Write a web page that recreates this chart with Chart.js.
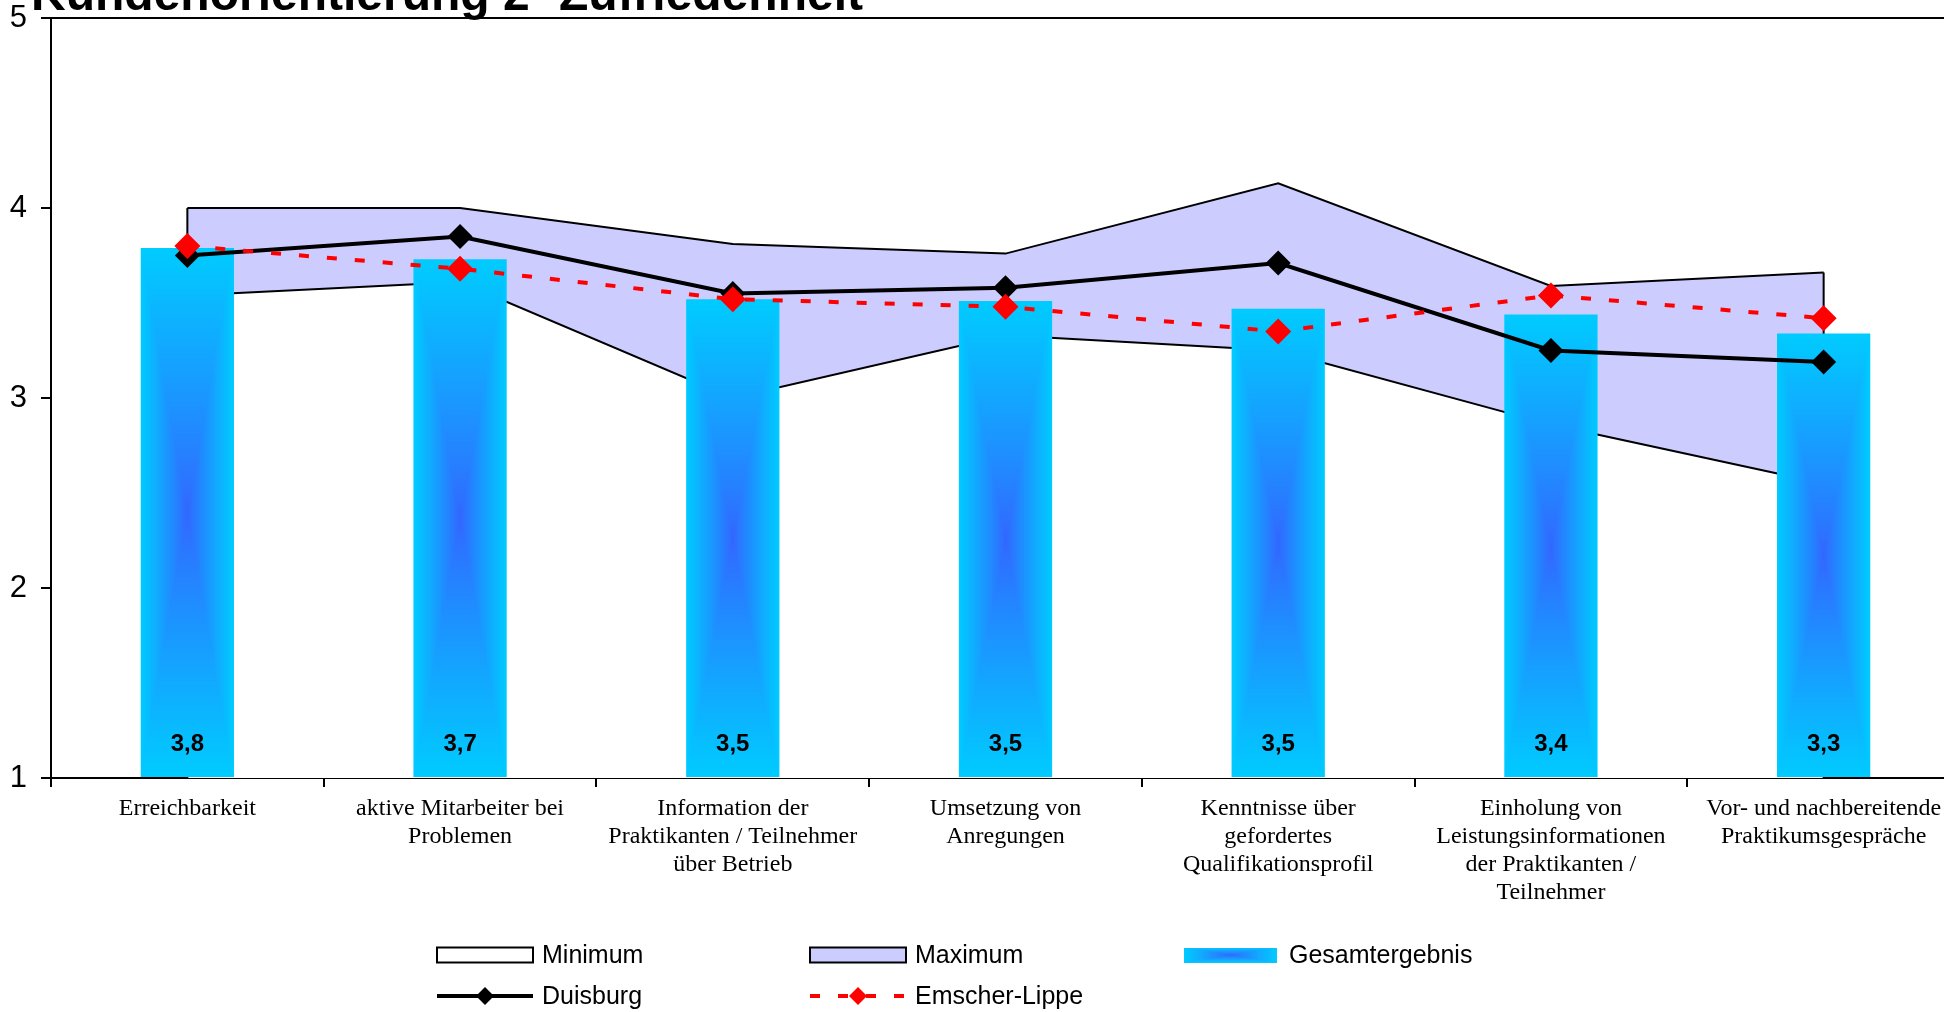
<!DOCTYPE html>
<html lang="de">
<head>
<meta charset="utf-8">
<title>Kundenorientierung 2- Zufriedenheit</title>
<script src="https://cdn.jsdelivr.net/npm/chart.js@4.4.1/dist/chart.umd.min.js"></script>
<style>
  html, body { margin: 0; padding: 0; background: #fff; overflow: hidden; }
  #wrap { width: 1944px; height: 1012px; overflow: hidden; position: relative; }
  #chart { position: absolute; left: 0; top: 0; }
</style>
</head>
<body>
<div id="wrap"><canvas id="chart" width="1980" height="1012"></canvas></div>
<script>
// ---- data ----
const chartTitle = 'Kundenorientierung 2- Zufriedenheit';
const categories = [
  'Erreichbarkeit',
  ['aktive Mitarbeiter bei', 'Problemen'],
  ['Information der', 'Praktikanten / Teilnehmer', 'über Betrieb'],
  ['Umsetzung von', 'Anregungen'],
  ['Kenntnisse über', 'gefordertes', 'Qualifikationsprofil'],
  ['Einholung von', 'Leistungsinformationen', 'der Praktikanten /', 'Teilnehmer'],
  ['Vor- und nachbereitende', 'Praktikumsgespräche']
];
const minimum   = [3.54, 3.61, 3.00, 3.33, 3.25, 2.86, 2.55];
const maximum   = [4.00, 4.00, 3.81, 3.76, 4.13, 3.59, 3.66];
const gesamt    = [3.79, 3.73, 3.52, 3.51, 3.47, 3.44, 3.34];
const duisburg  = [3.75, 3.85, 3.55, 3.58, 3.71, 3.25, 3.19];
const emscher   = [3.80, 3.68, 3.52, 3.48, 3.35, 3.54, 3.42];
const yTicks    = [1, 2, 3, 4, 5];

// ---- styling ----
const SANS = '"Liberation Sans", Arial, Helvetica, sans-serif';
const SERIF = '"Liberation Serif", "Times New Roman", serif';
const BAR_SHARE = 0.342;
const CYAN = [0, 204, 255];
const BLUE = [51, 102, 255];

// rectangular "from centre" fill: blue core fading to cyan at every edge
const fillCache = {};
function centreFill(w, h) {
  w = Math.max(1, Math.round(w));
  h = Math.max(1, Math.round(h));
  const key = w + 'x' + h;
  if (fillCache[key]) return fillCache[key];
  const c = document.createElement('canvas');
  c.width = w; c.height = h;
  const g = c.getContext('2d');
  const img = g.createImageData(w, h);
  const hw = w / 2, hh = h / 2;
  for (let y = 0; y < h; y++) {
    for (let x = 0; x < w; x++) {
      const s = Math.min(1, Math.max(Math.abs(x + 0.5 - hw) / hw, Math.abs(y + 0.5 - hh) / hh));
      const t = Math.pow(s, 0.9);
      const i = (y * w + x) * 4;
      img.data[i]     = BLUE[0] + (CYAN[0] - BLUE[0]) * t;
      img.data[i + 1] = BLUE[1] + (CYAN[1] - BLUE[1]) * t;
      img.data[i + 2] = BLUE[2] + (CYAN[2] - BLUE[2]) * t;
      img.data[i + 3] = 255;
    }
  }
  g.putImageData(img, 0, 0);
  fillCache[key] = c;
  return c;
}

function barFill(ctx) {
  const chart = ctx.chart;
  const xs = chart.scales && chart.scales.x;
  const ys = chart.scales && chart.scales.y;
  if (ctx.type !== 'data' || !xs || !ys || !chart.chartArea) return 'rgb(0,204,255)';
  const catWidth = xs.width / chart.data.labels.length;
  const w = catWidth * BAR_SHARE;
  const centre = xs.getPixelForValue(ctx.dataIndex);
  const top = ys.getPixelForValue(ctx.raw);
  const base = ys.getPixelForValue(ys.min);
  const src = centreFill(w, base - top);
  const pat = chart.ctx.createPattern(src, 'repeat');
  pat.setTransform(new DOMMatrix([w / src.width, 0, 0, (base - top) / src.height, centre - w / 2, top]));
  return pat;
}

// ---- plugins ----
const backgroundPlugin = {
  id: 'whiteBackground',
  beforeDraw(chart) {
    const c = chart.ctx;
    c.save();
    c.fillStyle = '#fff';
    c.fillRect(0, 0, chart.width, chart.height);
    c.restore();
  }
};

// vertical outline at both ends of a filled area series
const areaEdgePlugin = {
  id: 'areaEdges',
  afterDatasetDraw(chart, args) {
    const ds = chart.data.datasets[args.index];
    if (args.meta.type !== 'line' || !ds.fill) return;
    const pts = args.meta.data;
    if (!pts.length) return;
    const c = chart.ctx;
    const bottom = chart.chartArea.bottom;
    c.save();
    c.strokeStyle = ds.borderColor;
    c.lineWidth = ds.borderWidth;
    c.beginPath();
    [pts[0], pts[pts.length - 1]].forEach(p => {
      c.moveTo(p.x, p.y);
      c.lineTo(p.x, bottom);
    });
    c.stroke();
    c.restore();
  }
};

const frameAndLabels = {
  id: 'frameAndLabels',
  afterDatasetsDraw(chart) {
    const c = chart.ctx;
    const area = chart.chartArea;
    c.save();
    // top edge of the plot area
    c.strokeStyle = '#000';
    c.lineWidth = 2;
    c.beginPath();
    c.moveTo(area.left, area.top);
    c.lineTo(area.right, area.top);
    c.stroke();
    // value labels at the foot of each bar
    chart.data.datasets.forEach((ds, di) => {
      if (ds.type !== 'bar') return;
      const meta = chart.getDatasetMeta(di);
      c.font = 'bold 24px ' + SANS;
      c.fillStyle = '#000';
      c.textAlign = 'center';
      c.textBaseline = 'middle';
      meta.data.forEach((el, i) => {
        const txt = ds.data[i].toFixed(1).replace('.', ',');
        c.fillText(txt, el.x, area.bottom - 34);
      });
    });
    c.restore();
  }
};

const titlePlugin = {
  id: 'headline',
  afterDraw(chart) {
    const c = chart.ctx;
    c.save();
    c.font = 'bold 48px ' + SANS;
    c.fillStyle = '#000';
    c.textAlign = 'left';
    c.textBaseline = 'alphabetic';
    c.fillText(chartTitle, 31, 10);
    c.restore();
  }
};

// two-row series key below the axis
const keyPlugin = {
  id: 'seriesKey',
  afterDraw(chart) {
    const c = chart.ctx;
    const cols = [437, 810, 1184];
    const rows = [955, 996];
    const sw = 96;
    const byLabel = {};
    chart.data.datasets.forEach(d => { byLabel[d.label] = d; });
    const layout = [
      ['Minimum', 0, 0, 'area'],
      ['Maximum', 1, 0, 'area'],
      ['Gesamtergebnis', 2, 0, 'bar'],
      ['Duisburg', 0, 1, 'line'],
      ['Emscher-Lippe', 1, 1, 'line']
    ];
    c.save();
    layout.forEach(([label, col, row, kind]) => {
      const ds = byLabel[label];
      const x = cols[col], y = rows[row];
      if (kind === 'area') {
        c.fillStyle = ds.backgroundColor;
        c.fillRect(x, y - 7.5, sw, 15);
        c.strokeStyle = '#000';
        c.lineWidth = 2;
        c.strokeRect(x, y - 7.5, sw, 15);
      } else if (kind === 'bar') {
        c.drawImage(centreFill(sw - 3, 15), x, y - 7.5);
      } else {
        c.strokeStyle = ds.borderColor;
        c.lineWidth = ds.borderWidth;
        c.setLineDash(ds.borderDash || []);
        c.beginPath();
        c.moveTo(x, y);
        c.lineTo(x + sw, y);
        c.stroke();
        c.setLineDash([]);
        const r = 9;
        const cx = x + sw / 2;
        c.fillStyle = ds.pointBackgroundColor;
        c.beginPath();
        c.moveTo(cx - r, y); c.lineTo(cx, y - r); c.lineTo(cx + r, y); c.lineTo(cx, y + r);
        c.closePath();
        c.fill();
      }
      c.font = '25px ' + SANS;
      c.fillStyle = '#000';
      c.textAlign = 'left';
      c.textBaseline = 'middle';
      c.fillText(label, x + sw + 9, y + 1);
    });
    c.restore();
  }
};

// ---- chart ----
new Chart(document.getElementById('chart'), {
  type: 'bar',
  data: {
    labels: categories,
    datasets: [
      {
        type: 'line', label: 'Maximum', data: maximum, order: 5,
        borderColor: '#000', borderWidth: 2, backgroundColor: '#CCCCFF',
        fill: 'start', pointRadius: 0, tension: 0
      },
      {
        type: 'line', label: 'Minimum', data: minimum, order: 4,
        borderColor: '#000', borderWidth: 2, backgroundColor: '#FFFFFF',
        fill: 'start', pointRadius: 0, tension: 0
      },
      {
        type: 'bar', label: 'Gesamtergebnis', data: gesamt, order: 3,
        base: yTicks[0],
        backgroundColor: barFill, borderWidth: 0,
        barPercentage: BAR_SHARE, categoryPercentage: 1
      },
      {
        type: 'line', label: 'Duisburg', data: duisburg, order: 2,
        borderColor: '#000', borderWidth: 4, fill: false, tension: 0,
        pointStyle: 'rectRot', pointRadius: 12.5, pointBorderWidth: 0,
        pointBackgroundColor: '#000', pointBorderColor: '#000'
      },
      {
        type: 'line', label: 'Emscher-Lippe', data: emscher, order: 1,
        borderColor: '#FF0000', borderWidth: 4, borderDash: [10, 18], borderCapStyle: 'butt',
        fill: false, tension: 0,
        pointStyle: 'rectRot', pointRadius: 13, pointBorderWidth: 0,
        pointBackgroundColor: '#FF0000', pointBorderColor: '#FF0000'
      }
    ]
  },
  options: {
    responsive: false,
    animation: false,
    events: [],
    devicePixelRatio: 1,
    layout: { padding: { top: 18, right: 20, left: 0, bottom: 0 } },
    plugins: {
      legend: { display: false },
      title: { display: false },
      tooltip: { enabled: false }
    },
    scales: {
      x: {
        offset: true,
        ticks: {
          color: '#000', autoSkip: false, maxRotation: 0, minRotation: 0, padding: 8,
          font: { family: SERIF, size: 24, lineHeight: 28 / 24 }
        },
        grid: { offset: true, drawOnChartArea: false, drawTicks: true, tickLength: 9, color: '#000', lineWidth: 2 },
        border: { display: true, color: '#000', width: 2 },
        afterFit(scale) {
          scale.height = 234;
          scale.paddingLeft = 0; scale.paddingRight = 0;
        }
      },
      y: {
        min: yTicks[0], max: yTicks[yTicks.length - 1],
        afterBuildTicks(scale) { scale.ticks = yTicks.map(v => ({ value: v })); },
        ticks: { color: '#000', padding: 14, font: { family: SANS, size: 31 } },
        grid: { drawOnChartArea: false, drawTicks: true, tickLength: 10, color: '#000', lineWidth: 2 },
        border: { display: true, color: '#000', width: 2 },
        afterFit(scale) {
          scale.width = 51;
          scale.paddingTop = 0; scale.paddingBottom = 0;
        }
      }
    }
  },
  plugins: [backgroundPlugin, areaEdgePlugin, frameAndLabels, titlePlugin, keyPlugin]
});
</script>
</body>
</html>
